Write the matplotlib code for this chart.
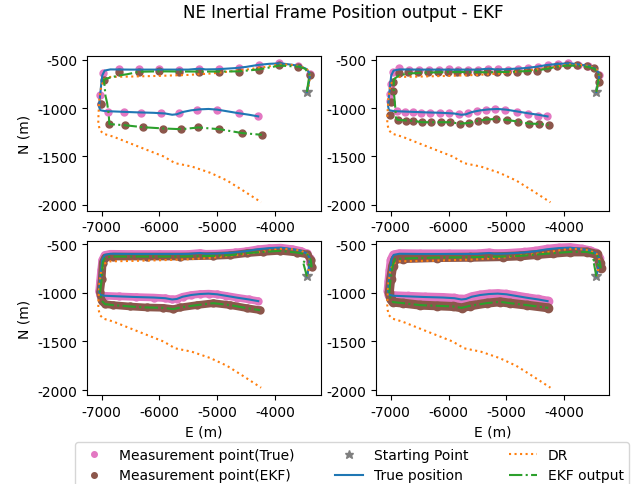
import matplotlib
matplotlib.use('Agg')
import matplotlib.pyplot as plt

plt.rcParams['axes.unicode_minus'] = False

# true trajectory (E, N) in metres
true_e = [-3447, -3420, -3400, -3400, -3450, -3550, -3700, -3900, -4100, -4300,
          -4500, -4700, -5000, -5200, -5300, -5500, -6000, -6500, -6850, -6950,
          -6990, -7010, -7030, -7045, -7030, -6950, -6700, -6400, -6100, -5900,
          -5780, -5700, -5600, -5450, -5300, -5150, -5000, -4850, -4650, -4450, -4290]
true_n = [-831, -760, -690, -640, -595, -568, -550, -535, -540, -552,
          -572, -585, -596, -598, -590, -600, -600, -600, -598, -610,
          -660, -760, -880, -980, -1020, -1030, -1036, -1043, -1048, -1055,
          -1068, -1063, -1040, -1022, -1012, -1008, -1015, -1030, -1050, -1068, -1085]

# dead reckoning
dr_e = [-3447, -3405, -3395, -3440, -3560, -3750, -3920, -4200, -4500, -4800,
        -5100, -5500, -6000, -6500, -6850, -6960, -7010, -7040, -7055, -7060,
        -7030, -6970, -6800, -6510, -6220, -5930, -5730, -5440, -5120, -4830,
        -4550, -4240]
dr_n = [-831, -740, -660, -600, -565, -548, -548, -575, -600, -620,
        -640, -655, -665, -672, -676, -700, -780, -900, -1050, -1160,
        -1230, -1265, -1295, -1364, -1432, -1500, -1570, -1605, -1670, -1750,
        -1855, -1975]

start_e = [-3447]
start_n = [-831]

# panel 1 (sparse measurements)
mt1_e = [-3390, -3593, -3922, -4274, -4626, -4972, -5314, -5655, -6002, -6348,
         -6695, -6983, -7029, -7017, -6886, -6614, -6314, -5972, -5655, -5354,
         -5007, -4621, -4291]
mt1_n = [-648, -562, -534, -552, -585, -596, -596, -600, -598, -598,
         -592, -638, -865, -959, -1038, -1040, -1048, -1052, -1052, -1017,
         -1015, -1052, -1086]
me1_e = [-3390, -3593, -3922, -4274, -4626, -4972, -5314, -5655, -6002, -6348,
         -6695, -6960, -7005, -6868, -6595, -6289, -5942, -5619, -5325, -4961,
         -4568, -4227]
me1_n = [-655, -569, -555, -600, -622, -620, -620, -620, -617, -620,
         -620, -707, -959, -1169, -1176, -1197, -1211, -1218, -1197, -1218,
         -1259, -1276]
ekf1_e = [-3447, -3420, -3400, -3480, -3593, -3922, -4274, -4626, -4972, -5314,
          -5655, -6002, -6348, -6561, -6695, -6900, -6965, -6950, -6935, -6908,
          -6879, -6868, -6595, -6289, -5942, -5619, -5325, -4961, -4568, -4227]
ekf1_n = [-831, -720, -655, -590, -569, -558, -598, -618, -620, -620,
          -620, -618, -622, -648, -660, -690, -705, -770, -873, -941,
          -1062, -1165, -1177, -1197, -1210, -1218, -1200, -1218, -1258, -1276]

# panel 2
mt2_e = [-3397, -3587, -3759, -3932, -4105, -4278, -4450, -4623, -4796, -4968,
         -5141, -5314, -5487, -5659, -5832, -5993, -6166, -6338, -6511, -6684,
         -6857, -6955, -7001, -7012, -7012, -6897, -6753, -6621, -6482, -6315,
         -6148, -5987, -5815, -5659, -5515, -5360, -5199, -5026, -4824, -4623,
         -4450, -4295]
mt2_n = [-655, -566, -548, -531, -541, -552, -576, -586, -593, -600,
         -593, -593, -600, -600, -600, -593, -600, -600, -600, -600,
         -586, -628, -748, -852, -921, -1031, -1035, -1042, -1049, -1049,
         -1049, -1049, -1059, -1049, -1024, -1014, -1007, -1014, -1035, -1059,
         -1076, -1083]
me2_e = [-3397, -3414, -3489, -3604, -3777, -3949, -4122, -4295, -4468, -4640,
         -4813, -4986, -5158, -5331, -5504, -5676, -5849, -6005, -6177, -6350,
         -6523, -6695, -6857, -6955, -6966, -7001, -7012, -6880, -6736, -6609,
         -6465, -6304, -6137, -5976, -5803, -5642, -5498, -5354, -5181, -4997,
         -4807, -4606, -4433, -4272]
me2_n = [-731, -652, -586, -566, -548, -548, -566, -586, -610, -617,
         -621, -628, -628, -628, -628, -628, -628, -628, -628, -628,
         -628, -628, -635, -724, -817, -938, -1069, -1121, -1128, -1131,
         -1145, -1145, -1145, -1145, -1162, -1152, -1131, -1118, -1111, -1121,
         -1138, -1162, -1162, -1173]
ekf2_e = [-3447, -3420, -3400, -3480, -3604, -3777, -3949, -4122, -4295, -4468,
          -4640, -4813, -4986, -5158, -5331, -5504, -5676, -5849, -6005, -6177,
          -6350, -6523, -6695, -6857, -6945, -6950, -6935, -6920, -6910, -6880,
          -6736, -6609, -6465, -6304, -6137, -5976, -5803, -5642, -5498, -5354,
          -5181, -4997, -4807, -4606, -4433, -4272]
ekf2_n = [-831, -740, -660, -590, -570, -560, -558, -570, -590, -608,
          -615, -620, -625, -625, -628, -626, -625, -625, -625, -628,
          -630, -635, -640, -660, -700, -800, -900, -1000, -1100, -1121,
          -1127, -1131, -1145, -1145, -1145, -1145, -1160, -1152, -1131, -1118,
          -1111, -1121, -1138, -1160, -1162, -1173]

# panel 3 (dense)
ekf3_e = [-3447, -3519, -3365, -3380, -3440, -3621, -3910, -4199, -4487, -4776,
          -5065, -5643, -6221, -6798, -6943, -6983, -7000, -7029, -7000, -6943,
          -6798, -6510, -6221, -5932, -5759, -5643, -5354, -5065, -4776, -4487, -4257]
ekf3_n = [-831, -671, -730, -660, -605, -586, -568, -579, -592, -613,
          -620, -627, -627, -627, -637, -688, -859, -996, -1082, -1116,
          -1126, -1140, -1150, -1154, -1167, -1150, -1126, -1106, -1126, -1157, -1178]

# panel 4 (densest)
ekf4_e = [-3447, -3500, -3370, -3385, -3443, -3615, -3903, -4191, -4479, -4767,
          -5055, -5630, -6206, -6782, -6926, -6966, -7001, -7024, -7001, -6960,
          -6782, -6494, -6206, -5918, -5774, -5630, -5343, -5112, -4940, -4652, -4278]
ekf4_n = [-831, -660, -740, -688, -603, -579, -579, -592, -606, -620,
          -627, -634, -637, -647, -654, -723, -859, -996, -1065, -1095,
          -1106, -1126, -1133, -1140, -1154, -1133, -1106, -1092, -1106, -1126, -1154]

fig = plt.figure(figsize=(6.37, 4.85), dpi=100)
fw, fh = 637, 485

def ax_at(x0, y0, x1, y1):
    return fig.add_axes([x0 / fw, 1 - y1 / fh, (x1 - x0) / fw, (y1 - y0) / fh])

ax1 = ax_at(87, 57.3, 320.7, 211.7)
ax2 = ax_at(376, 57.3, 609.3, 211.7)
ax3 = ax_at(87, 242.3, 320.7, 396)
ax4 = ax_at(376, 242.3, 609.3, 396)

def draw_common(ax):
    ax.plot(start_e, start_n, '*', color='C7', markersize=8, label='Starting Point')
    ax.plot(true_e, true_n, '-', color='C0', linewidth=1.5, label='True position')
    ax.plot(dr_e, dr_n, ':', color='C1', linewidth=1.5, label='DR')

# sparse panels
for ax, mte, mtn, mee, men, ee, en in [(ax1, mt1_e, mt1_n, me1_e, me1_n, ekf1_e, ekf1_n),
                                       (ax2, mt2_e, mt2_n, me2_e, me2_n, ekf2_e, ekf2_n)]:
    ax.plot(mte, mtn, 'o', color='C6', markersize=5, label='Measurement point(True)')
    ax.plot(mee, men, 'o', color='C5', markersize=5, label='Measurement point(EKF)')
    draw_common(ax)
    ax.plot(ee, en, '-.', color='C2', linewidth=1.5, label='EKF output')

# dense panels
for ax, ee, en, ms in [(ax3, ekf3_e, ekf3_n, 5), (ax4, ekf4_e, ekf4_n, 6)]:
    ax.plot(true_e[2:], true_n[2:], 'o-', color='C6', markersize=ms,
            linewidth=ms + 0.5, solid_capstyle='round', label='Measurement point(True)')
    ax.plot(ee[2:], en[2:], 'o-', color='C5', markersize=ms,
            linewidth=ms + 0.5, solid_capstyle='round', label='Measurement point(EKF)')
    draw_common(ax)
    ax.plot(ee, en, '-.', color='C2', linewidth=1.5, label='EKF output')

ax1.set_xlim(-7255, -3208)
ax2.set_xlim(-7254, -3223)
ax3.set_xlim(-7255, -3208)
ax4.set_xlim(-7254, -3223)
ax1.set_ylim(-2063, -462)
ax2.set_ylim(-2062, -462)
ax3.set_ylim(-2050, -470)
ax4.set_ylim(-2050, -470)

for ax in [ax1, ax2, ax3, ax4]:
    ax.set_xticks([-7000, -6000, -5000, -4000])
    ax.set_yticks([-500, -1000, -1500, -2000])

ax1.set_ylabel('N (m)')
ax3.set_ylabel('N (m)')
ax3.set_xlabel('E (m)')
ax4.set_xlabel('E (m)')

fig.text(343 / fw, 1 - 13 / fh, 'NE Inertial Frame Position output - EKF',
         ha='center', va='center', fontsize=12)

handles, labels = ax1.get_legend_handles_labels()
fig.legend(handles, labels, loc='upper center', ncol=3, markerscale=0.8,
           columnspacing=2.9, borderaxespad=0,
           bbox_to_anchor=(352 / fw, 1 - 443 / fh))

fig.savefig('out.png', dpi=100)
